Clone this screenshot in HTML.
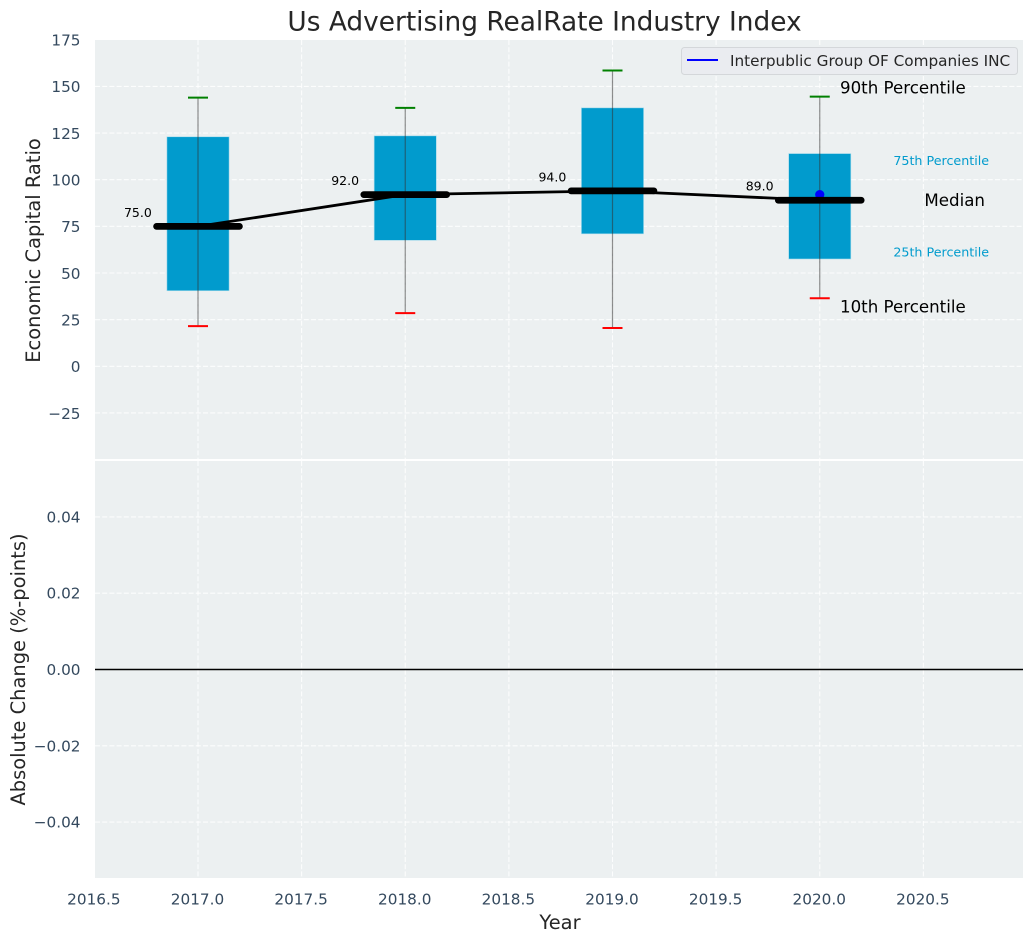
<!DOCTYPE html>
<html>
<head>
<meta charset="utf-8">
<title>Us Advertising RealRate Industry Index</title>
<style>
html,body{margin:0;padding:0;background:#fff;width:1034px;height:942px;overflow:hidden}
svg{display:block;font-family:"DejaVu Sans","Liberation Sans",sans-serif}
</style>
</head>
<body>
<svg id="chart" width="1034" height="942" viewBox="0 0 1034 942" xmlns="http://www.w3.org/2000/svg"></svg>
<script>
const categories = [2017, 2018, 2019, 2020];
const p10 = [21.5, 28.5, 20.5, 36.5];
const p25 = [40.5, 67.5, 71, 57.5];
const p50 = [75, 92, 94, 89];
const p75 = [123, 123.5, 138.5, 114];
const p90 = [144, 138.5, 158.5, 144.5];
const companyYear = [2020];
const companyValue = [92];
const medianLabels = ["75.0", "92.0", "94.0", "89.0"];
const xTicks = [2016.5, 2017, 2017.5, 2018, 2018.5, 2019, 2019.5, 2020, 2020.5];
const xTickLabels = ["2016.5", "2017.0", "2017.5", "2018.0", "2018.5", "2019.0", "2019.5", "2020.0", "2020.5"];
const yTicksTop = [-25, 0, 25, 50, 75, 100, 125, 150, 175];
const yTickLabelsTop = ["\u221225", "0", "25", "50", "75", "100", "125", "150", "175"];
const yTicksBottom = [-0.04, -0.02, 0, 0.02, 0.04];
const yTickLabelsBottom = ["\u22120.04", "\u22120.02", "0.00", "0.02", "0.04"];

const NS = "http://www.w3.org/2000/svg";
const svg = document.getElementById("chart");
const L = 95, R = 1023, T1 = 40, B1 = 459, T2 = 461, B2 = 878;
const x = v => 198 + (v - 2017) * 207.25;
const y1 = v => 366.3 - v * 1.866;
const y2 = v => 669.5 - v * 3815;

function mk(tag, attrs, text) {
  const e = document.createElementNS(NS, tag);
  for (const k in attrs) e.setAttribute(k, attrs[k]);
  if (text !== undefined) e.textContent = text;
  svg.appendChild(e);
  return e;
}
const tickColor = "#34495e", darkText = "#262626";
const tickSize = 15.28, axisSize = 19.44, noteSize = 16.67, smallSize = 12.5, percentileSize = 12.7;
let el;

el = mk("rect", {x: L, y: T1, width: R - L, height: B1 - T1, fill: "#ecf0f1"});


el = mk("rect", {x: L, y: T2, width: R - L, height: B2 - T2, fill: "#ecf0f1"});



const gridStyle = {stroke: "#ffffff", "stroke-width": 1.1, "stroke-dasharray": "5 2.2", "stroke-opacity": 0.85, fill: "none"};
xTicks.forEach((t, i) => {
  el = mk("line", Object.assign({x1: x(t), x2: x(t), y1: T1, y2: B1}, gridStyle));
  
  
  el = mk("line", Object.assign({x1: x(t), x2: x(t), y1: T2, y2: B2}, gridStyle));
  
  
  el = mk("text", {x: x(t) - 0.5, y: 904.5, "text-anchor": "middle", "font-size": tickSize, fill: tickColor}, xTickLabels[i]);
  
  
});
yTicksTop.forEach((t, i) => {
  if (t < 175) {
    el = mk("line", Object.assign({x1: L, x2: R, y1: y1(t), y2: y1(t)}, gridStyle));
    
    
  }
  el = mk("text", {x: 80.5, y: y1(t) + 5.8, "text-anchor": "end", "font-size": tickSize, fill: tickColor}, yTickLabelsTop[i]);
  
  
});
yTicksBottom.forEach((t, i) => {
  el = mk("line", Object.assign({x1: L, x2: R, y1: y2(t), y2: y2(t)}, gridStyle));
  
  
  el = mk("text", {x: 80.5, y: y2(t) + 5.5, "text-anchor": "end", "font-size": tickSize, fill: tickColor}, yTickLabelsBottom[i]);
  
  
});

el = mk("line", {x1: L, x2: R, y1: y2(0), y2: y2(0), stroke: "#000", "stroke-width": 1.5});



categories.forEach((c, i) => {
  el = mk("rect", {x: x(c - 0.15), y: y1(p75[i]), width: x(c + 0.15) - x(c - 0.15), height: y1(p25[i]) - y1(p75[i]), fill: "#019bcd", stroke: "#a8dcec", "stroke-width": 0.6});
  
  
  el = mk("line", {x1: x(c), x2: x(c), y1: y1(p90[i]), y2: y1(p10[i]), stroke: "#333", "stroke-opacity": 0.55, "stroke-width": 1.2});
  
  
  el = mk("line", {x1: x(c) - 10, x2: x(c) + 10, y1: y1(p90[i]), y2: y1(p90[i]), stroke: "#008000", "stroke-width": 2});
  
  
  el = mk("line", {x1: x(c) - 10, x2: x(c) + 10, y1: y1(p10[i]), y2: y1(p10[i]), stroke: "#ff0000", "stroke-width": 2});
  
  
});

el = mk("path", {d: categories.map((c, i) => (i ? "L" : "M") + x(c) + " " + y1(p50[i])).join(""), fill: "none", stroke: "#000", "stroke-width": 2.8});



companyYear.forEach((c, i) => {
  el = mk("circle", {cx: x(c), cy: y1(companyValue[i]), r: 4.6, fill: "#0000ff"});
  
  
});

categories.forEach((c, i) => {
  el = mk("line", {x1: x(c - 0.2), x2: x(c + 0.2), y1: y1(p50[i]), y2: y1(p50[i]), stroke: "#000", "stroke-width": 6.7, "stroke-linecap": "round"});
  
  
  el = mk("text", {x: x(c - 0.29), y: y1(p50[i]) - 9.5, "text-anchor": "middle", "font-size": smallSize, fill: "#000"}, medianLabels[i]);
  
  
});

const last = categories.length - 1;
el = mk("text", {x: x(2020.1) - 0.5, y: y1(p90[last]) - 3, "font-size": noteSize, fill: "#000"}, "90th Percentile");


el = mk("text", {x: x(2020.1) - 0.5, y: y1(p10[last]) + 14.5, "font-size": noteSize, fill: "#000"}, "10th Percentile");


el = mk("text", {x: x(2020.5) + 1, y: y1(p50[last]) + 6, "font-size": noteSize, fill: "#000"}, "Median");


el = mk("text", {x: x(2020.355), y: y1(p75[last]) + 11.5, "font-size": percentileSize, fill: "#019bcd"}, "75th Percentile");


el = mk("text", {x: x(2020.355), y: y1(p25[last]) - 2.5, "font-size": percentileSize, fill: "#019bcd"}, "25th Percentile");



el = mk("rect", {x: 681.5, y: 47.5, width: 336, height: 27, rx: 3, fill: "#eaecf0", stroke: "#d4d7da", "stroke-width": 1});


el = mk("line", {x1: 687, x2: 718, y1: 60, y2: 60, stroke: "#0000ff", "stroke-width": 2});


el = mk("text", {x: 730, y: 66, "font-size": tickSize, fill: darkText}, "Interpublic Group OF Companies INC");



el = mk("text", {x: 544.5, y: 30.5, "text-anchor": "middle", "font-size": 26.39, fill: darkText}, "Us Advertising RealRate Industry Index");


el = mk("text", {x: 560, y: 929, "text-anchor": "middle", "font-size": axisSize, fill: darkText}, "Year");


el = mk("text", {transform: "translate(40 250.5) rotate(-90)", "text-anchor": "middle", "font-size": axisSize, fill: darkText}, "Economic Capital Ratio");


el = mk("text", {transform: "translate(25 669.5) rotate(-90)", "text-anchor": "middle", "font-size": axisSize, fill: darkText}, "Absolute Change (%-points)");


</script>
</body>
</html>
